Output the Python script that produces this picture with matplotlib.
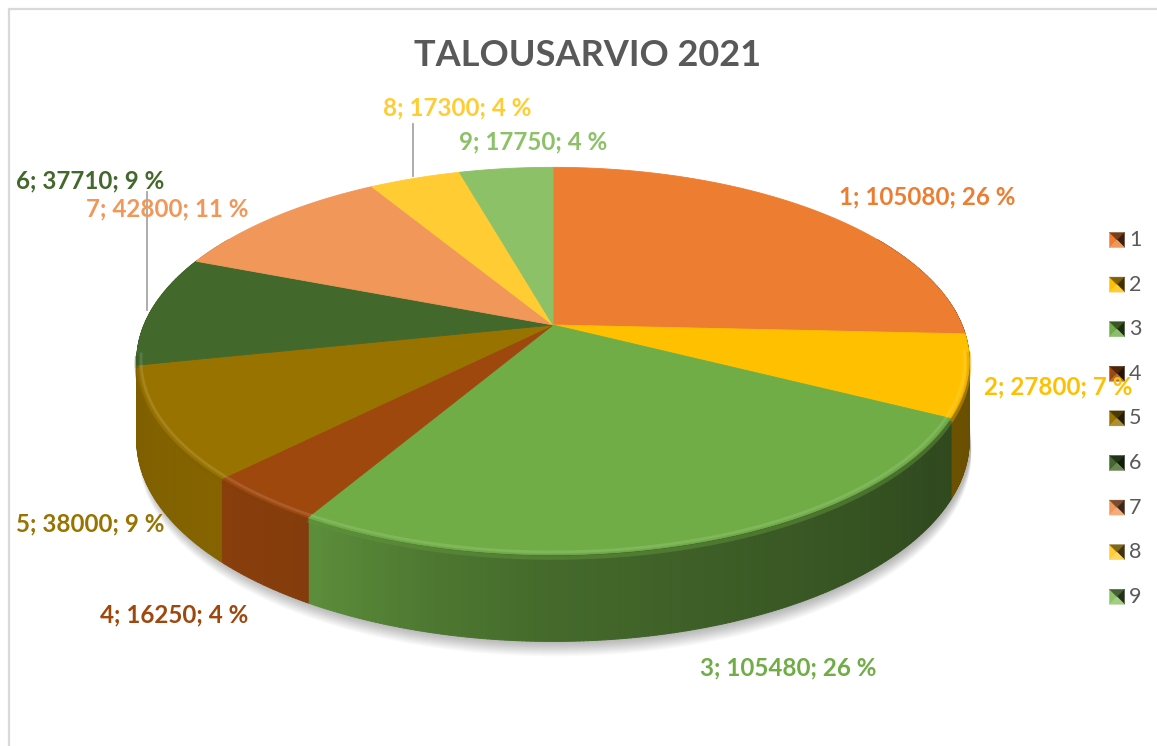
import numpy as np
import matplotlib
matplotlib.use("Agg")
import matplotlib.pyplot as plt
from matplotlib.patches import Polygon
from matplotlib.collections import PolyCollection
import matplotlib.colors as mcolors

# ---- data ----
categories = ["1", "2", "3", "4", "5", "6", "7", "8", "9"]
values = [105080, 27800, 105480, 16250, 38000, 37710, 42800, 17300, 17750]
percents = [26, 7, 26, 4, 9, 9, 11, 4, 4]
colors = ["#ED7D31", "#FFC000", "#70AD47", "#9E480E", "#997300",
          "#43682B", "#F1975A", "#FFCD33", "#8CC168"]
title = "TALOUSARVIO 2021"

# ---- layout ----
W, H = 1157, 746
fig = plt.figure(figsize=(W / 100, H / 100), dpi=100)
ax = fig.add_axes([0, 0, 1, 1])
ax.set_xlim(0, W)
ax.set_ylim(H, 0)
ax.axis("off")

cx, cy = 553, 325
A, B, P = 409, 187, 0.186


def proj(theta_deg, r=1.0):
    t = np.radians(theta_deg)
    u = r * np.sin(t)
    v = r * np.cos(t)
    s = 1.0 / (1.0 + P * v)
    return cx + A * u * s, cy - B * v * s, s


def depth(s):
    return 40 + 38 * s


def shade(c, f):
    rgb = np.array(mcolors.to_rgb(c))
    return tuple(np.clip(rgb * f, 0, 1))


def lighten(c, f):
    rgb = np.array(mcolors.to_rgb(c))
    return tuple(np.clip(rgb + (1 - rgb) * f, 0, 1))


vals = np.array(values, dtype=float)
frac = vals / vals.sum()
bounds = np.concatenate([[0], np.cumsum(frac) * 360])

# ---- frame ----
ax.plot([8, W], [8.5, 8.5], color="#D9D9D9", lw=1.6, solid_capstyle="butt")
ax.plot([8.5, 8.5], [8, H], color="#D9D9D9", lw=1.6, solid_capstyle="butt")

# ---- shadow ----
th = np.linspace(0, 360, 361)
bx, by = [], []
for t in th:
    x, y, s = proj(t)
    bx.append(x)
    by.append(y + depth(s))
bx = np.array(bx); by = np.array(by)
for k in range(1, 16):
    ax.add_patch(Polygon(np.column_stack([bx + 2, by + k * 1.0]), closed=True,
                         facecolor="#000000", edgecolor="none", alpha=0.02, zorder=1))

# ---- side walls ----
fth = [90, 125, 160, 180, 195, 212, 225, 250, 275]
fvl = [0.40, 0.43, 0.54, 0.61, 0.70, 0.84, 0.87, 0.83, 0.80]


def slice_of(t):
    return int(np.searchsorted(bounds, t, side="right") - 1) % len(values)


quads, qcols, qv = [], [], []
step = 0.5
t = 60.0
while t < 300.0:
    t2 = t + step
    tm = 0.5 * (t + t2)
    i = slice_of(tm)
    x1, y1, s1 = proj(t)
    x2, y2, s2 = proj(t2)
    quad = [(x1, y1), (x2, y2), (x2, y2 + depth(s2)), (x1, y1 + depth(s1))]
    f = np.interp(tm, fth, fvl)
    quads.append(quad)
    qcols.append(shade(colors[i], f))
    qv.append(np.cos(np.radians(tm)))
    t = t2
order = np.argsort(qv)[::-1]
pc = PolyCollection([quads[j] for j in order], facecolors=[qcols[j] for j in order],
                    edgecolors=[qcols[j] for j in order], linewidths=0.7, zorder=2)
ax.add_collection(pc)

# ---- top face ----
for i in range(len(values)):
    a0, a1 = bounds[i], bounds[i + 1]
    ts = np.linspace(a0, a1, max(3, int((a1 - a0) * 2)))
    pts = [(cx, cy)] + [proj(tt)[:2] for tt in ts]
    ax.add_patch(Polygon(pts, closed=True, facecolor=colors[i], edgecolor=colors[i],
                         lw=0.6, zorder=3))
    # bevel on front rim
    fr = ts[(ts > 97) & (ts < 262)]
    if len(fr) > 1:
        hx, hy = [], []
        for tt in fr:
            x, y, s = proj(tt, 0.99)
            hx.append(x); hy.append(y)
        ax.plot(hx, hy, color=lighten(colors[i], 0.22), lw=2.0, alpha=0.55,
                zorder=4, solid_capstyle="butt")
        dx, dy = [], []
        for tt in fr:
            x, y, s = proj(tt, 1.0)
            dx.append(x); dy.append(y + 3)
        ax.plot(dx, dy, color=shade(colors[i], 0.85), lw=3, alpha=0.5,
                zorder=4, solid_capstyle="butt")

# ---- title ----
ax.text(588, 56, title, ha="center", va="center", fontsize=26, fontweight="bold",
        family="Lato", color="#595959", zorder=6)

# ---- data labels ----
label_pos = [(927, 197), (1058, 387), (788, 668), (174, 615), (90, 524),
             (90, 181), (167, 209), (457, 108), (533, 142)]
ax.plot([147, 147], [192, 310], color="#A6A6A6", lw=1.3, zorder=5)
ax.plot([413, 413], [124, 176], color="#A6A6A6", lw=1.3, zorder=5)
for i in range(len(values)):
    txt = f"{categories[i]}; {values[i]}; {percents[i]} %"
    ax.text(label_pos[i][0], label_pos[i][1], txt, ha="center", va="center",
            fontsize=17.4, fontweight="bold", family="Lato", color=colors[i], zorder=7)

# ---- legend ----
lx, ly0, ldy = 1117, 240, 44.6
for i in range(len(values)):
    y = ly0 + i * ldy
    hw, hh = 7.5, 7.5
    c = colors[i]
    l, r, tp, bt = lx - hw, lx + hw, y - hh, y + hh
    ctr = (lx, y)
    tris = [
        ([(l, tp), ctr, (l, bt)], c),
        ([(l, tp), (r, tp), ctr], shade(c, 0.5)),
        ([(r, tp), (r, bt), ctr], shade(c, 0.25)),
        ([(l, bt), ctr, (r, bt)], lighten(c, 0.2)),
    ]
    for pts, col in tris:
        ax.add_patch(Polygon(pts, closed=True, facecolor=col, edgecolor=col, lw=0.3, zorder=6))
    ax.text(lx + 12, y, categories[i], ha="left", va="center", fontsize=15.5,
            family="Lato", color="#595959", zorder=6)

fig.savefig("out.png", dpi=100)
